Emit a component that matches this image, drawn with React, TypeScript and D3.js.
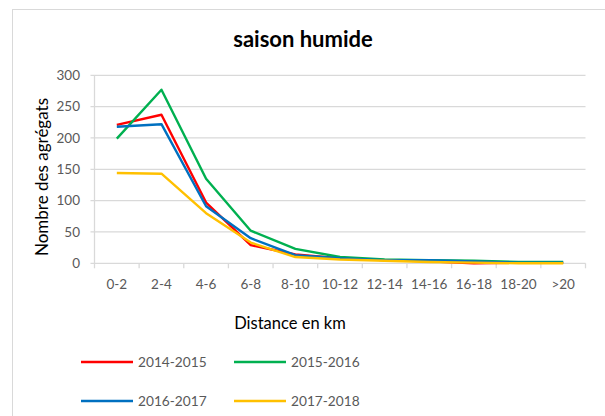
import React from "react";
import { scaleBand, scaleLinear, line } from "d3";

// distance classes and the four seasons
const categories = ["0-2", "2-4", "4-6", "6-8", "8-10", "10-12", "12-14", "14-16", "16-18", "18-20", ">20"];
const s2014 = [221, 237, 97, 29, 14, 8, 5, 3, 0, 1, 1];
const s2015 = [199, 277, 135, 52, 23, 10, 6, 5, 4, 2, 2];
const s2016 = [218, 222, 91, 40, 13, 8, 5, 5, 3, 1, 1];
const s2017 = [144, 143, 80, 33, 10, 6, 4, 2, 1, 0, 0];
const yTicks = [0, 50, 100, 150, 200, 250, 300];

const series = [
  { name: "2014-2015", values: s2014, color: "#FF0000" },
  { name: "2015-2016", values: s2015, color: "#00B050" },
  { name: "2016-2017", values: s2016, color: "#0070C0" },
  { name: "2017-2018", values: s2017, color: "#FFC000" },
];

const W = 605;
const H = 416;
const left = 94.5;
const right = 585.5;
const top = 75.3;
const bottom = 263.3;
const font = "Lato, 'Open Sans', sans-serif";

export default function App() {
  const x = scaleBand().domain(categories).range([left, right]);
  const y = scaleLinear().domain([0, 300]).range([bottom, top]);
  const path = line<number>()
    .x((_, i) => x(categories[i])! + x.bandwidth() / 2)
    .y((d) => y(d));

  // legend layout: two columns, two rows
  const legendPos = [
    { x: 81, y: 362 },
    { x: 234, y: 362 },
    { x: 81, y: 401 },
    { x: 234, y: 401 },
  ];

  return (
    <svg
      width={W}
      height={H}
      style={{ position: "absolute", left: 0, top: 0, background: "#fff" }}
      fontFamily={font}
    >
      <rect x={12.5} y={9.5} width={W} height={H} fill="#fff" stroke="#d9d9d9" />
      <text x={303} y={39} dy="0.35em" textAnchor="middle" fontSize={22} fontWeight="bold" fill="#000">
        saison humide
      </text>

      {yTicks.map((t) => (
        <g key={t}>
          <line x1={left - 4} x2={right} y1={y(t)} y2={y(t)} stroke="#d9d9d9" strokeWidth={1.3} />
          <text x={80} y={y(t)} dy="0.35em" textAnchor="end" fontSize={13.5} fill="#595959">
            {t}
          </text>
        </g>
      ))}
      <line x1={left} x2={left} y1={top} y2={bottom + 5} stroke="#d9d9d9" strokeWidth={1.3} />
      {categories.map((c) => (
        <g key={c}>
          <line
            x1={x(c)! + x.bandwidth()}
            x2={x(c)! + x.bandwidth()}
            y1={bottom}
            y2={bottom + 5}
            stroke="#d9d9d9"
            strokeWidth={1.3}
          />
          <text x={x(c)! + x.bandwidth() / 2} y={284} dy="0.35em" textAnchor="middle" fontSize={13.5} fill="#595959">
            {c}
          </text>
        </g>
      ))}

      <text
        transform={`translate(42,177) rotate(-90)`}
        textAnchor="middle"
        dy="0.35em"
        fontSize={17}
        fill="#000"
      >
        Nombre des agrégats
      </text>
      <text x={290} y={323} dy="0.35em" textAnchor="middle" fontSize={16.5} fill="#000">
        Distance en km
      </text>

      {series.map((s) => (
        <path key={s.name} d={path(s.values)!} fill="none" stroke={s.color} strokeWidth={2.4} strokeLinejoin="round" />
      ))}

      {series.map((s, i) => (
        <g key={s.name} transform={`translate(${legendPos[i].x},${legendPos[i].y})`}>
          <line x1={0} x2={52} y1={0} y2={0} stroke={s.color} strokeWidth={2.4} />
          <text x={57} y={0} dy="0.35em" fontSize={13.7} fill="#595959">
            {s.name}
          </text>
        </g>
      ))}
    </svg>
  );
}
